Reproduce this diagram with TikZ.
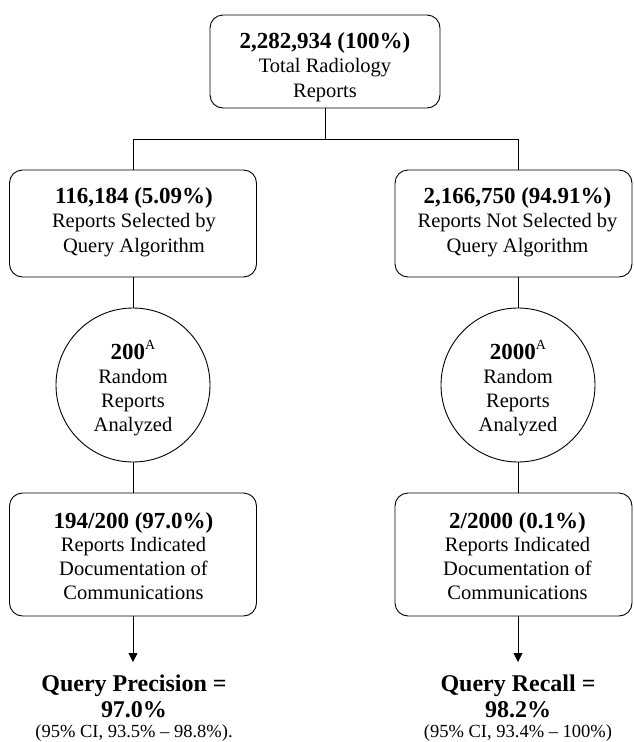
\documentclass[tikz,border=0pt]{standalone}
\usepackage{fontspec}
\setmainfont{Liberation Serif}
\usetikzlibrary{arrows.meta}
\newcommand{\hd}[1]{{\fontsize{23}{24.5}\selectfont\bfseries #1}}
\newcommand{\supA}{\raisebox{10pt}{\fontsize{14}{14}\selectfont\mdseries A}}
\tikzset{
  boxnode/.style={draw, line width=0.9pt, rounded corners=13pt, inner sep=0pt},
  circnode/.style={draw, circle, line width=0.9pt, minimum size=154pt, inner sep=0pt},
  txt/.style={align=center, inner sep=0pt, font=\fontsize{20.5}{24.5}\selectfont},
  ctxt/.style={align=center, inner sep=0pt, font=\fontsize{20.5}{24}\selectfont},
  rtxt/.style={align=center, inner sep=0pt, font=\fontsize{20.5}{23.8}\selectfont},
  qtxt/.style={align=center, inner sep=0pt, anchor=north, font=\fontsize{24}{26}\selectfont\bfseries},
  conn/.style={line width=0.9pt},
  arr/.style={line width=0.9pt, -{Triangle[length=9pt,width=9pt]}},
}
\begin{document}
\begin{tikzpicture}[x=1pt,y=-1pt]
\useasboundingbox (0,0) rectangle (633,742);
% boxes
\node[boxnode, minimum width=230pt, minimum height=93pt] (top) at (325,61.5) {};
\node[txt] (ttop) at (325,66.9) {\hd{2,282,934 (100\%)}\\Total Radiology\\Reports};

\node[boxnode, minimum width=247pt, minimum height=107pt] (lsel) at (133,223.5) {};
\node[txt] (tlsel) at (134,222) {\hd{116,184 (5.09\%)}\\Reports Selected by\\Query Algorithm};
\node[boxnode, minimum width=237pt, minimum height=107pt] (rsel) at (513.5,223.5) {};
\node[txt] (trsel) at (517.5,222) {\hd{2,166,750 (94.91\%)}\\Reports Not Selected by\\Query Algorithm};

\node[circnode] (lcirc) at (133,385) {};
\node[ctxt] (tlcirc) at (133,388) {\hd{200\supA}\\Random\\Reports\\Analyzed};
\node[circnode] (rcirc) at (518,385) {};
\node[ctxt] (trcirc) at (518,388) {\hd{2000\supA}\\Random\\Reports\\Analyzed};

\node[boxnode, minimum width=247pt, minimum height=123pt] (lres) at (133,554.5) {};
\node[rtxt] (tlres) at (133.5,556) {\hd{194/200 (97.0\%)}\\Reports Indicated\\Documentation of\\Communications};
\node[boxnode, minimum width=237pt, minimum height=123pt] (rres) at (513.5,554.5) {};
\node[rtxt] (trres) at (517.5,556) {\hd{2/2000 (0.1\%)}\\Reports Indicated\\Documentation of\\Communications};

\node[qtxt] (lq) at (134,675) {Query Precision =\\97.0\%\\[-6pt]{\mdseries\fontsize{18.5}{20}\selectfont (95\% CI, 93.5\% -- 98.8\%).}};
\node[qtxt] (rq) at (518,675) {Query Recall =\\98.2\%\\[-6pt]{\mdseries\fontsize{18.5}{20}\selectfont (95\% CI, 93.4\% -- 100\%)}};

% connectors
\coordinate (split) at (325,139);
\draw[conn] (top.south) -- (split);
\draw[conn] (split) -| (lsel.north);
\draw[conn] (split) -| (rcirc.north |- rsel.north);
\draw[conn] (lsel.south) -- (lcirc.north);
\draw[conn] (rcirc.north |- rsel.south) -- (rcirc.north);
\draw[conn] (lcirc.south) -- (lres.north);
\draw[conn] (rcirc.south) -- (rcirc.south |- rres.north);
\coordinate (ltip) at (133,662);
\coordinate (rtip) at (518,662);
\draw[arr] (lres.south) -- (ltip);
\draw[arr] (rcirc.south |- rres.south) -- (rtip);
\end{tikzpicture}
\end{document}
